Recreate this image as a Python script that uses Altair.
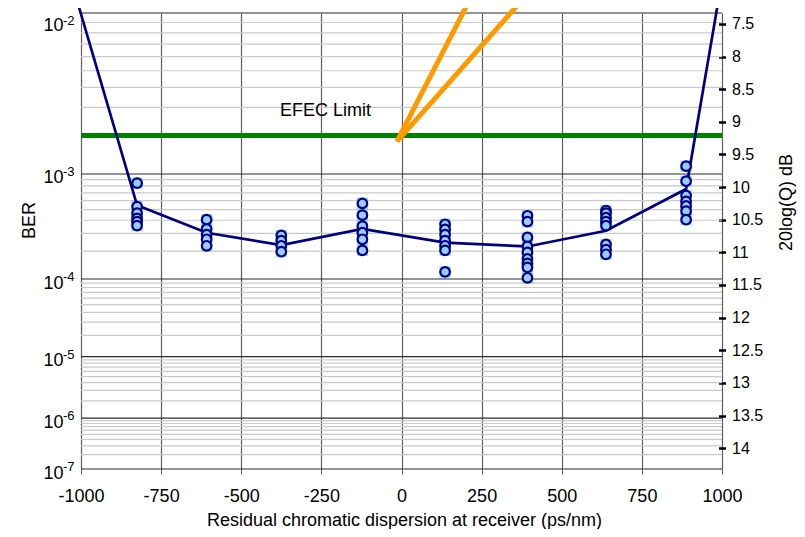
import math
import altair as alt
import pandas as pd

# ---------------- data ----------------
# residual dispersion of each measurement column (ps/nm)
col_x = [-825, -608, -375, -122, 136, 393, 638, 888]
# measured 20log(Q) values (dB) at each column
col_db = [
    [9.94, 10.30, 10.40, 10.48, 10.53, 10.59],
    [10.50, 10.64, 10.73, 10.80, 10.90],
    [10.74, 10.82, 10.90, 10.99],
    [10.25, 10.43, 10.60, 10.70, 10.80, 10.97],
    [10.57, 10.65, 10.73, 10.82, 10.90, 10.97, 11.30],
    [10.44, 10.53, 10.77, 10.91, 11.00, 11.10, 11.17, 11.23, 11.39],
    [10.36, 10.40, 10.47, 10.53, 10.59, 10.88, 10.96, 11.03],
    [9.68, 9.91, 10.13, 10.22, 10.29, 10.37, 10.50],
]
# fitted curve
line_x = [-1006, -825, -608, -375, -122, 136, 393, 638, 888, 985]
line_db = [7.25, 10.28, 10.70, 10.89, 10.64, 10.85, 10.91, 10.67, 10.03, 7.25]

# EFEC limit
efec_db = 9.21
efec_label = "EFEC Limit"
efec_label_x = -237
efec_label_db = 8.83

# orange guide lines
orange_group = ["a", "a", "b", "b"]
orange_x = [-14, 214, -14, 379]
orange_db = [9.30, 7.12, 9.30, 7.12]

# axes
x_ticks = [-1000, -750, -500, -250, 0, 250, 500, 750, 1000]
ber_exponents = [-2, -3, -4, -5, -6, -7]
right_ticks = [7.5, 8, 8.5, 9, 9.5, 10, 10.5, 11, 11.5, 12, 12.5, 13, 13.5, 14]


def qdb(ber):
    lo, hi = 0.0, 12.0
    for _ in range(200):
        mid = (lo + hi) / 2
        if 0.5 * math.erfc(mid / math.sqrt(2)) > ber:
            lo = mid
        else:
            hi = mid
    return 20 * math.log10((lo + hi) / 2)


major_db = [qdb(10.0 ** e) for e in ber_exponents]
minor_db = [qdb(k * 10.0 ** e) for e in ber_exponents[1:] for k in range(2, 10)]

FONT = "Liberation Sans"

df_pts = pd.DataFrame(
    [{"x": x, "db": v} for x, vals in zip(col_x, col_db) for v in vals]
)
df_line = pd.DataFrame({"x": line_x, "db": line_db})
df_orange = pd.DataFrame({"g": orange_group, "x": orange_x, "db": orange_db})
df_major = pd.DataFrame({"db": major_db})
df_minor = pd.DataFrame({"db": minor_db})
df_exp = pd.DataFrame({"db": major_db, "exp": [str(e) for e in ber_exponents]})
df_limit = pd.DataFrame({"db": [efec_db]})
df_label = pd.DataFrame({"x": [efec_label_x], "db": [efec_label_db], "t": [efec_label]})

yscale = alt.Scale(domain=[qdb(1e-2), qdb(1e-7)], reverse=True, nice=False, zero=False)
xscale = alt.Scale(domain=[-1000, 1000], nice=False, zero=False)

x_axis = alt.Axis(
    values=x_ticks, labelExpr="'' + datum.value", grid=True, gridColor="#5e5e5e",
    gridWidth=1.2, domain=False, ticks=True, tickSize=5, tickColor="#5e5e5e",
    labelFontSize=18, labelFont=FONT, labelColor="black", labelPadding=13,
    labelFlush=False, labelOverlap=False,
    title="Residual chromatic dispersion at receiver (ps/nm)", titleFont=FONT,
    titleFontSize=18, titleFontWeight="normal", titleColor="black",
    titleX=323, titleY=51, titleAlign="center", titleBaseline="middle",
)

left_axis = alt.Axis(
    values=major_db, labelExpr="'10'", grid=False, ticks=False, domain=False,
    labelFontSize=18, labelFont=FONT, labelColor="black", labelPadding=18,
    labelBaseline="middle",
    labelOffset={"condition": {"test": "datum.value < 7.4", "value": 12}, "value": 4},
    labelFlush=False, labelOverlap=False, orient="left",
    title="BER", titleFont=FONT, titleFontSize=18, titleFontWeight="normal",
    titleColor="black", titleAngle=270, titleX=-52, titleY=207,
    titleAlign="center", titleBaseline="middle",
)

right_axis = alt.Axis(
    values=right_ticks, labelExpr="'' + datum.value", orient="right", grid=False,
    domain=False, ticks=True, tickSize=7, tickWidth=2.5, tickColor="black",
    offset=-3.5, labelPadding=6, labelFontSize=16, labelFont=FONT,
    labelColor="black", labelBaseline="middle", labelFlush=False, labelOverlap=False,
    title="20log(Q) dB", titleFont=FONT, titleFontSize=18, titleFontWeight="normal",
    titleColor="black", titleAngle=270, titleX=68, titleY=189,
    titleAlign="center", titleBaseline="middle",
)

minor = alt.Chart(df_minor).mark_rule(color="#cacaca", strokeWidth=1.2).encode(
    y=alt.Y("db:Q", scale=yscale, axis=left_axis)
)
major = alt.Chart(df_major).mark_rule(color="#2a2a2a", strokeWidth=1.2).encode(
    y=alt.Y("db:Q", scale=yscale, axis=None)
)
exp_base = alt.Chart(df_exp).encode(
    x=alt.value(-18),
    y=alt.Y("db:Q", scale=yscale, axis=None),
    text="exp:N",
)
exps_top = exp_base.mark_text(
    align="left", baseline="middle", fontSize=13, font=FONT, color="black", dy=7.5
).transform_filter("datum.exp == '-2'")
exps_rest = exp_base.mark_text(
    align="left", baseline="middle", fontSize=13, font=FONT, color="black", dy=-2
).transform_filter("datum.exp != '-2'")
limit = alt.Chart(df_limit).mark_rule(color="#008000", strokeWidth=5).encode(
    y=alt.Y("db:Q", scale=yscale, axis=None)
)
label = alt.Chart(df_label).mark_text(
    fontSize=18, font=FONT, color="black", align="center", baseline="middle"
).encode(
    x=alt.X("x:Q", scale=xscale, axis=x_axis),
    y=alt.Y("db:Q", scale=yscale, axis=None),
    text="t:N",
)
orange = alt.Chart(df_orange).mark_line(
    color="#FF9900", strokeWidth=5, clip=False, strokeCap="butt"
).encode(
    x=alt.X("x:Q", scale=xscale, axis=x_axis),
    y=alt.Y("db:Q", scale=yscale, axis=None),
    detail="g:N",
)
squares = alt.Chart(df_pts).mark_square(
    size=125, color="#99CCFF", opacity=1, filled=True
).encode(
    x=alt.X("x:Q", scale=xscale, axis=x_axis),
    y=alt.Y("db:Q", scale=yscale, axis=None),
)
line = alt.Chart(df_line).mark_line(color="#000080", strokeWidth=2.7, clip=False).encode(
    x=alt.X("x:Q", scale=xscale, axis=x_axis),
    y=alt.Y("db:Q", scale=yscale, axis=None),
)
circles = alt.Chart(df_pts).mark_point(
    shape="circle", filled=True, fill="#99CCFF", stroke="#000080",
    strokeWidth=2.2, size=92, opacity=1,
).encode(
    x=alt.X("x:Q", scale=xscale, axis=x_axis),
    y=alt.Y("db:Q", scale=yscale, axis=right_axis),
)

chart = (
    alt.layer(minor, major, exps_top, exps_rest, limit, label, orange, squares, line, circles)
    .resolve_scale(y="shared", x="shared")
    .resolve_axis(y="independent")
    .properties(
        width=641, height=456,
        padding={"left": 73, "top": 5, "right": 75, "bottom": 60},
        autosize=alt.AutoSizeParams(type="none"),
        background="white",
    )
    .configure_view(stroke=None)
)

chart.save("out.html", embed_options={"renderer": "svg", "actions": False})
